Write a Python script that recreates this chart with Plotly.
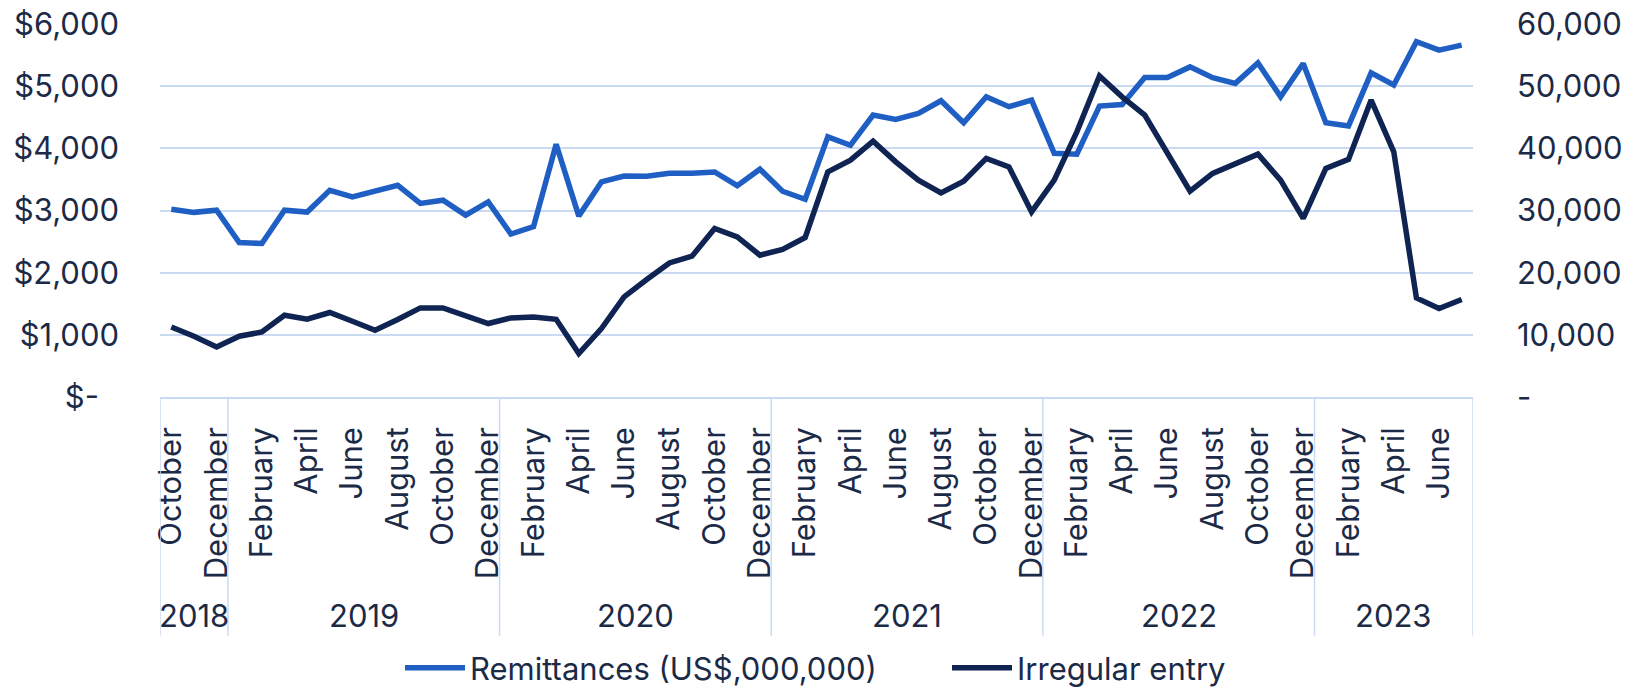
import plotly.graph_objects as go

# ---------------- data ----------------
month_names = ["October", "November", "December",
               "January", "February", "March", "April", "May", "June", "July", "August", "September", "October", "November", "December",
               "January", "February", "March", "April", "May", "June", "July", "August", "September", "October", "November", "December",
               "January", "February", "March", "April", "May", "June", "July", "August", "September", "October", "November", "December",
               "January", "February", "March", "April", "May", "June", "July", "August", "September", "October", "November", "December",
               "January", "February", "March", "April", "May", "June", "July"]

years = ["2018", "2019", "2020", "2021", "2022", "2023"]
year_counts = [3, 12, 12, 12, 12, 7]

remittances = [3020, 2970, 3005,
               2485, 2470, 3005, 2975, 3325, 3220, 3315, 3405, 3115, 3165, 2925, 3140,
               2620, 2740, 4065, 2910, 3460, 3555, 3550, 3600, 3600, 3620, 3400, 3665,
               3310, 3180, 4185, 4050, 4535, 4465, 4560, 4765, 4410, 4830, 4670, 4775,
               3920, 3905, 4680, 4705, 5140, 5140, 5310, 5135, 5045, 5375, 4830, 5365,
               4410, 4360, 5215, 5020, 5715, 5580, 5660]

irregular_entry = [11250, 9770, 8050,
                   9770, 10460, 13150, 12510, 13590, 12190, 10740, 12460, 14330, 14330, 12990, 11820,
                   12720, 12880, 12510, 6990, 11010, 16100, 18900, 21570, 22650, 27110, 25760, 22810,
                   23730, 25660, 36220, 38100, 41160, 37830, 34880, 32840, 34720, 38380, 37020, 29780,
                   34880, 42660, 51630, 48290, 45350, 39180, 33110, 35960, 37570, 39070, 34880, 28720,
                   36770, 38220, 47760, 39440, 15940, 14230, 15680]

left_tick_vals = [0, 1000, 2000, 3000, 4000, 5000, 6000]
left_tick_text = ["$-\u2007", "$1,000", "$2,000", "$3,000", "$4,000", "$5,000", "$6,000"]
right_tick_vals = [0, 10000, 20000, 30000, 40000, 50000, 60000]
right_tick_text = ["-", "10,000", "20,000", "30,000", "40,000", "50,000", "60,000"]

# ---------------- style ----------------
FONT = "Inter"
FS = 31
TXT = "#1B2A47"
GRID = "#C9DAF2"
BLUE = "#1F5FC4"
NAVY = "#0F2452"

x_idx = list(range(len(month_names)))
tick_vals = x_idx[::2]
tick_text = month_names[::2]

fig = go.Figure()
fig.add_trace(go.Scatter(x=x_idx, y=remittances, mode="lines", name="Remittances (US$,000,000)",
                         line=dict(color=BLUE, width=5.5)))
fig.add_trace(go.Scatter(x=x_idx, y=irregular_entry, mode="lines", name="Irregular entry",
                         yaxis="y2", line=dict(color=NAVY, width=5.5)))

# year group dividers and labels
bounds = [-0.5]
for c in year_counts:
    bounds.append(bounds[-1] + c)
shapes = []
for b in bounds:
    shapes.append(dict(type="line", xref="x", yref="paper", x0=b, x1=b, y0=0, y1=-0.64,
                       line=dict(color=GRID, width=1.5)))
annotations = []
for i, yr in enumerate(years):
    annotations.append(dict(x=(bounds[i] + bounds[i + 1]) / 2, y=-0.586, xref="x", yref="paper",
                            text=yr, showarrow=False, xanchor="center", yanchor="middle",
                            font=dict(family=FONT, size=FS, color=TXT)))

fig.update_layout(
    width=1642, height=695,
    margin=dict(l=160, r=169, t=24, b=298, autoexpand=False),
    paper_bgcolor="white", plot_bgcolor="white",
    font=dict(family=FONT, size=FS, color=TXT),
    shapes=shapes, annotations=annotations,
    showlegend=True,
    legend=dict(orientation="h", xref="container", yref="container",
                x=400 / 1642, xanchor="left", y=0, yanchor="bottom",
                entrywidth=472, entrywidthmode="pixels",
                font=dict(family=FONT, size=FS, color=TXT), itemwidth=60, traceorder="normal"),
    xaxis=dict(range=[-0.5, len(month_names) - 0.5], tickmode="array", tickvals=tick_vals,
               ticktext=tick_text, tickangle=-90, showgrid=False, zeroline=False,
               showline=True, linecolor=GRID, linewidth=1.5, ticks="", ticklabelstandoff=16,
               tickfont=dict(family=FONT, size=FS, color=TXT)),
    yaxis=dict(range=[0, 6000], tickmode="array", tickvals=left_tick_vals, ticktext=left_tick_text,
               showgrid=True, gridcolor=GRID, gridwidth=1.5, zeroline=False, showline=False,
               ticks="", ticklabelstandoff=40, tickfont=dict(family=FONT, size=FS, color=TXT)),
    yaxis2=dict(range=[0, 60000], overlaying="y", side="right", tickmode="array",
                tickvals=right_tick_vals, ticktext=right_tick_text, showgrid=False, zeroline=False,
                showline=False, ticks="", ticklabelstandoff=43,
                tickfont=dict(family=FONT, size=FS, color=TXT)),
)

fig.write_html("out.html", config={"displayModeBar": False},
               post_script="document.body.style.margin='0px';")
